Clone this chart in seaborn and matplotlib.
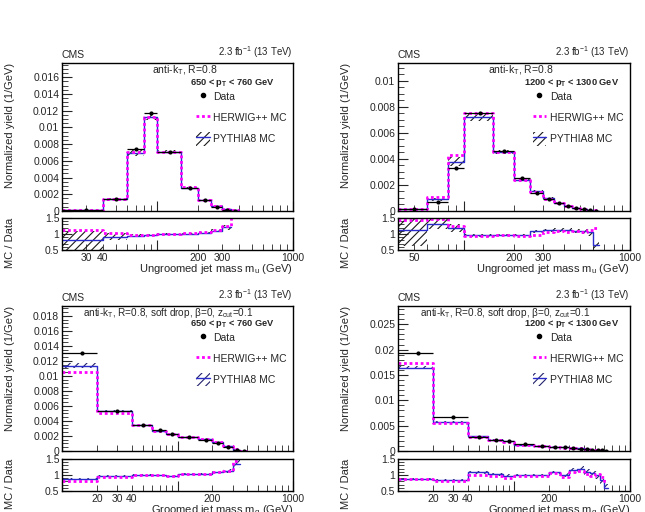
import numpy as np
import matplotlib
matplotlib.use("Agg")
import matplotlib.pyplot as plt
import seaborn as sns
from matplotlib.lines import Line2D
from matplotlib.patches import Patch
from matplotlib.ticker import AutoMinorLocator, FuncFormatter, MultipleLocator

# ---------------- data ----------------
# top-left: ungroomed, 650 < pT < 760 GeV
tl_edges = [20, 40, 60, 80, 100, 150, 200, 250, 300, 350, 400]
tl_data = [0.00012, 0.0014, 0.0074, 0.01175, 0.0070, 0.0028, 0.0013, 0.0005, 0.00015, 0.00004]
tl_herwig = [0.00013, 0.00145, 0.0071, 0.0113, 0.0070, 0.0029, 0.00135, 0.00055, 0.0002, 0.00008]
tl_pythia = [0.0001, 0.0014, 0.0069, 0.0112, 0.0071, 0.0028, 0.0013, 0.00055, 0.00018, 0.00006]
tl_pythia_unc = [0.37, 0.11, 0.05, 0.03, 0.03, 0.03, 0.03, 0.04, 0.06, 0.1]
tl_ratio_herwig = [1.12, 1.02, 0.97, 0.96, 0.99, 1.02, 1.06, 1.12, 1.25, 2.0]
tl_ratio_pythia = [0.80, 0.92, 0.95, 0.96, 0.99, 1.01, 1.04, 1.10, 1.21]

# top-right: ungroomed, 1200 < pT < 1300 GeV
tr_edges = [40, 60, 80, 100, 150, 200, 250, 300, 350, 400, 450, 500, 550, 600, 650]
tr_data = [0.00013, 0.0007, 0.0033, 0.00755, 0.0046, 0.0025, 0.0014, 0.0009, 0.00058, 0.00038, 0.00022, 0.00012, 0.00006, 0.00003]
tr_herwig = [0.00015, 0.00108, 0.0043, 0.0075, 0.0045, 0.0024, 0.00145, 0.00095, 0.0006, 0.0004, 0.00024, 0.00013, 0.00007, 0.00004]
tr_pythia = [0.00013, 0.0009, 0.0038, 0.0072, 0.00455, 0.0024, 0.0015, 0.001, 0.00065, 0.00042, 0.00025, 0.00013, 0.00006, 0.00002]
tr_pythia_unc = [0.45, 0.12, 0.1, 0.04, 0.03, 0.03, 0.05, 0.05, 0.05, 0.06, 0.06, 0.07, 0.1, 0.25]
tr_ratio_herwig = [1.45, 1.48, 1.24, 0.95, 0.97, 0.95, 0.98, 1.05, 1.08, 1.06, 1.10, 1.05, 1.12, 1.20]
tr_ratio_pythia = [1.13, 1.32, 1.18, 0.96, 0.97, 0.96, 1.08, 1.11, 1.12, 1.12, 1.10, 1.08, 1.05, 0.66]

# bottom-left: groomed, 650 < pT < 760 GeV
bl_edges = [10, 20, 40, 60, 80, 100, 150, 200, 250, 300, 350, 400]
bl_data = [0.0130, 0.00537, 0.0035, 0.0028, 0.0023, 0.0018, 0.0015, 0.0011, 0.00055, 0.00015, 0.00003]
bl_herwig = [0.0105, 0.0050, 0.0034, 0.0027, 0.0022, 0.00185, 0.00155, 0.00115, 0.0006, 0.0002, 0.00004]
bl_pythia = [0.01133, 0.0053, 0.00345, 0.0027, 0.00222, 0.00185, 0.00155, 0.00118, 0.0006, 0.00019, 0.00004]
bl_pythia_unc = [0.03, 0.02, 0.02, 0.02, 0.02, 0.02, 0.02, 0.03, 0.06, 0.1, 0.15]
bl_ratio_herwig = [0.82, 0.95, 1.0, 1.0, 0.98, 1.04, 1.04, 1.08, 1.13, 1.45]
bl_ratio_pythia = [0.87, 0.98, 1.0, 0.99, 0.98, 1.04, 1.04, 1.08, 1.12, 1.35]

# bottom-right: groomed, 1200 < pT < 1300 GeV
br_edges = [10, 20, 40, 60, 80, 100, 150, 200, 250, 300, 350, 400, 450, 500, 550, 600, 650]
br_data = [0.0193, 0.0068, 0.0028, 0.0022, 0.0020, 0.0013, 0.001, 0.0008, 0.0007, 0.0006, 0.00045, 0.00035, 0.00025, 0.00015, 0.0001, 0.00005]
br_herwig = [0.0173, 0.0056, 0.0027, 0.00215, 0.00182, 0.0012, 0.00095, 0.00082, 0.00065, 0.00062, 0.0005, 0.00036, 0.00025, 0.00016, 0.0001, 0.00004]
br_pythia = [0.01645, 0.0057, 0.0029, 0.0022, 0.0019, 0.00125, 0.00098, 0.00085, 0.0007, 0.00066, 0.00054, 0.00038, 0.00026, 0.00016, 0.00009, 0.00003]
br_pythia_unc = [0.02, 0.03, 0.05, 0.05, 0.05, 0.04, 0.04, 0.05, 0.05, 0.07, 0.08, 0.08, 0.1, 0.12, 0.15, 0.2]
br_ratio_herwig = [0.87, 0.82, 1.0, 0.96, 0.92, 0.97, 0.97, 1.05, 0.93, 1.10, 1.12, 1.02, 0.98, 1.02, 0.95, 0.80]
br_ratio_pythia = [0.89, 0.84, 1.08, 1.02, 0.98, 1.00, 1.00, 1.08, 1.00, 1.15, 1.20, 1.10, 1.05, 1.00, 0.85, 0.60]

pt_labels = ["650 < $\\mathbf{p_{T}}$ < 760 GeV", "1200 < $\\mathbf{p_{T}}$ < 1300 GeV",
             "650 < $\\mathbf{p_{T}}$ < 760 GeV", "1200 < $\\mathbf{p_{T}}$ < 1300 GeV"]
algo_labels = ["anti-k$_{T}$, R=0.8", "anti-k$_{T}$, R=0.8",
               "anti-k$_{T}$, R=0.8, soft drop, β=0, z$_{cut}$=0.1",
               "anti-k$_{T}$, R=0.8, soft drop, β=0, z$_{cut}$=0.1"]
xtitles = ["Ungroomed jet mass m$_{u}$ (GeV)", "Ungroomed jet mass m$_{u}$ (GeV)",
           "Groomed jet mass m$_{g}$ (GeV)", "Groomed jet mass m$_{g}$ (GeV)"]
x_ranges = [(20, 1000), (40, 1000), (10, 1000), (10, 1000)]
x_labeled = [[30, 40, 200, 300, 1000], [50, 200, 300, 1000], [20, 30, 40, 200, 1000], [20, 30, 40, 200, 1000]]
y_max = [0.0177, 0.01137, 0.0193, 0.0286]
y_major = [0.002, 0.002, 0.002, 0.005]

# ---------------- style ----------------
sns.set_style("ticks")
plt.rcParams["font.family"] = ["Liberation Sans", "DejaVu Sans"]
plt.rcParams["mathtext.fontset"] = "custom"
plt.rcParams["mathtext.rm"] = "Liberation Sans"
plt.rcParams["mathtext.it"] = "Liberation Sans"
plt.rcParams["mathtext.bf"] = "Liberation Sans:bold"
plt.rcParams["hatch.linewidth"] = 0.8

W, H = 645, 512
fig = plt.figure(figsize=(6.45, 5.12), dpi=100)

HERWIG_C = "#ff00ff"
PYTHIA_C = "#2b2bcc"
FS = 7.5


def px_axes(x0, y0, x1, y1):
    return fig.add_axes([x0 / W, 1 - y1 / H, (x1 - x0) / W, (y1 - y0) / H])


def steps(ax, edges, vals, **kw):
    vals = np.asarray(vals, float)
    x = np.asarray(edges[: len(vals) + 1], float)
    y = np.append(vals, vals[-1])
    sns.lineplot(x=x, y=y, ax=ax, drawstyle="steps-post", estimator=None, sort=False,
                 legend=False, errorbar=None, **kw)


def band(ax, edges, vals, rel, color):
    vals = np.asarray(vals, float)
    rel = np.asarray(rel[: len(vals)], float)
    x = np.asarray(edges[: len(vals) + 1], float)
    lo = np.append(vals * (1 - rel), vals[-1] * (1 - rel[-1]))
    hi = np.append(vals * (1 + rel), vals[-1] * (1 + rel[-1]))
    ax.fill_between(x, lo, hi, step="post", facecolor="none", edgecolor=color,
                    hatch="////", linewidth=0)


def xticks(ax, xr, labeled, show):
    decades = [d for d in [10, 100, 1000] if xr[0] <= d <= xr[1]]
    minors = [v for v in list(range(20, 100, 10)) + list(range(200, 1000, 100)) if xr[0] <= v <= xr[1]]
    ax.set_xticks(decades, labels=[(str(d) if (show and d in labeled) else "") for d in decades])
    ax.set_xticks(minors, labels=[(str(v) if (show and v in labeled) else "") for v in minors], minor=True)
    ax.tick_params(axis="x", which="major", length=7, direction="in", labelsize=FS, pad=2)
    ax.tick_params(axis="x", which="minor", length=4, direction="in", labelsize=FS, pad=2)


layout = [
    ((62, 63, 293, 211), (62, 218, 293, 250)),
    ((398, 63, 630, 211), (398, 218, 630, 250)),
    ((62, 306, 293, 451), (62, 459, 293, 491)),
    ((398, 306, 630, 451), (398, 459, 630, 491)),
]
series = [
    (tl_edges, tl_data, tl_herwig, tl_pythia, tl_pythia_unc, tl_ratio_herwig, tl_ratio_pythia),
    (tr_edges, tr_data, tr_herwig, tr_pythia, tr_pythia_unc, tr_ratio_herwig, tr_ratio_pythia),
    (bl_edges, bl_data, bl_herwig, bl_pythia, bl_pythia_unc, bl_ratio_herwig, bl_ratio_pythia),
    (br_edges, br_data, br_herwig, br_pythia, br_pythia_unc, br_ratio_herwig, br_ratio_pythia),
]

for i in range(4):
    (m, r) = layout[i]
    edges, data, herwig, pythia, unc, rh, rp = series[i]
    edges = np.asarray(edges, float)
    hatch_c = "#1a1a1a" if i < 2 else "#22226e"
    axm = px_axes(*m)
    axr = px_axes(*r)

    # main panel
    band(axm, edges, pythia, unc, hatch_c)
    steps(axm, edges, pythia, color=PYTHIA_C, linewidth=1.0)
    steps(axm, edges, herwig, color=HERWIG_C, linewidth=2.0, linestyle=(0, (1, 1)))
    centers = 0.5 * (edges[:-1] + edges[1:])
    axm.errorbar(centers, data, xerr=[centers - edges[:-1], edges[1:] - centers], fmt="none",
                 ecolor="black", elinewidth=0.9, capsize=0, zorder=5)
    sns.scatterplot(x=centers, y=np.asarray(data), ax=axm, color="black", s=9,
                    edgecolor="black", linewidth=0, zorder=6, legend=False)

    axm.set_xscale("log")
    axm.set_xlim(*x_ranges[i])
    axm.set_ylim(0, y_max[i])
    xticks(axm, x_ranges[i], x_labeled[i], False)
    axm.yaxis.set_major_locator(MultipleLocator(y_major[i]))
    axm.yaxis.set_minor_locator(AutoMinorLocator(4 if y_major[i] == 0.002 else 5))
    axm.yaxis.set_major_formatter(FuncFormatter(lambda v, p: "%g" % round(v, 6)))
    axm.tick_params(axis="y", which="major", length=7, direction="in", labelsize=FS, pad=2)
    axm.tick_params(axis="y", which="minor", length=4, direction="in")
    axm.set_ylabel("Normalized yield (1/GeV)", fontsize=FS + 0.5, loc="top")
    axm.yaxis.set_label_coords(-47 / 231, 1.0)
    axm.set_xlabel("")

    axm.text(0.0, 1.02, "CMS", transform=axm.transAxes, ha="left", va="bottom", fontsize=FS)
    axm.text(1.0, 1.02, "2.3 fb$^{-1}$ (13 TeV)", transform=axm.transAxes, ha="right",
             va="bottom", fontsize=FS - 0.5)
    if i < 2:
        axm.text(0.53, 0.948, algo_labels[i], transform=axm.transAxes, ha="center",
                 va="center", fontsize=FS)
        axm.text(0.74 if i == 0 else 0.75, 0.863, pt_labels[i], transform=axm.transAxes,
                 ha="center", va="center", fontsize=FS - 0.8, fontweight="bold")
        leg_top = 0.818
    else:
        axm.text(0.46, 0.95, algo_labels[i], transform=axm.transAxes, ha="center",
                 va="center", fontsize=FS - 0.3)
        axm.text(0.74 if i == 2 else 0.75, 0.875, pt_labels[i], transform=axm.transAxes,
                 ha="center", va="center", fontsize=FS - 0.8, fontweight="bold")
        leg_top = 0.83
    handles = [
        Line2D([], [], marker="o", color="black", ls="none", ms=3),
        Line2D([], [], color=HERWIG_C, ls=(0, (1, 1)), lw=2.0),
        (Patch(facecolor="none", edgecolor=hatch_c, hatch="////", lw=0),
         Line2D([], [], color=PYTHIA_C, lw=1.0)),
    ]
    axm.legend(handles, ["Data", "HERWIG++ MC", "PYTHIA8 MC"], loc="upper left",
               bbox_to_anchor=(0.58, leg_top), frameon=False, fontsize=FS,
               handlelength=1.3, handletextpad=0.35, labelspacing=0.75, borderpad=0,
               borderaxespad=0, handleheight=1.6)

    # ratio panel
    band(axr, edges, rp, unc, hatch_c)
    steps(axr, edges, rp, color=PYTHIA_C, linewidth=1.0)
    steps(axr, edges, rh, color=HERWIG_C, linewidth=2.0, linestyle=(0, (1, 1)))
    axr.set_xscale("log")
    axr.set_xlim(*x_ranges[i])
    axr.set_ylim(0.5, 1.5)
    xticks(axr, x_ranges[i], x_labeled[i], True)
    axr.set_yticks([0.5, 1.0, 1.5], labels=["0.5", "1", "1.5"])
    axr.yaxis.set_minor_locator(MultipleLocator(0.1))
    axr.tick_params(axis="y", which="major", length=7, direction="in", labelsize=FS, pad=2)
    axr.tick_params(axis="y", which="minor", length=4, direction="in")
    axr.set_ylabel("MC / Data", fontsize=FS + 0.5, loc="top")
    axr.yaxis.set_label_coords(-47 / 231, 1.0)
    axr.set_xlabel(xtitles[i], fontsize=FS + 0.5, loc="right")
    axr.xaxis.set_label_coords(1.0, -0.38)

    for ax in (axm, axr):
        for s in ax.spines.values():
            s.set_linewidth(1.0)
            s.set_color("black")

fig.savefig("out.png", dpi=100)
